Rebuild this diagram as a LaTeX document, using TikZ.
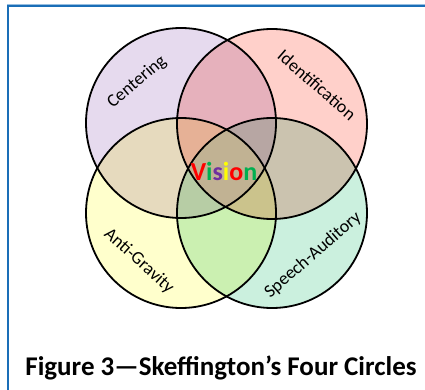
\documentclass[tikz,border=0pt]{standalone}
\usepackage{fontspec}
\setmainfont{Carlito}
\begin{document}
\begin{tikzpicture}[x=1pt,y=-1pt,
  lbl/.style={font=\fontsize{18}{20}\selectfont, inner sep=0pt},
  ring/.style={draw=black, line width=1.8pt}]
\definecolor{cTL}{RGB}{230,218,238}
\definecolor{cTR}{RGB}{255,208,202}
\definecolor{cBL}{RGB}{255,255,204}
\definecolor{cBR}{RGB}{203,240,222}
\definecolor{frameblue}{RGB}{26,110,183}
\definecolor{framelight}{RGB}{150,190,225}
\definecolor{vred}{RGB}{255,0,0}
\definecolor{vgreen}{RGB}{0,176,80}
\definecolor{vpurple}{RGB}{112,48,160}
\definecolor{vyellow}{RGB}{255,255,0}
\useasboundingbox (0,0) rectangle (425,390);
\fill[white] (0,0) rectangle (425,390);
% frame
\draw[framelight, line width=1pt] (7,4.5) -- (425,4.5);
\draw[frameblue, line width=2.2pt] (7,6.3) -- (425,6.3);
\draw[frameblue, line width=2.2pt] (8,5.2) -- (8,390);
% circle centres
\coordinate (tl) at (181,123);
\coordinate (tr) at (272,124);
\coordinate (bl) at (181,213);
\coordinate (br) at (272,213);
\begin{scope}[blend group=multiply]
  \fill[cTL] (tl) circle (95);
  \fill[cTR] (tr) circle (95);
  \fill[cBL] (bl) circle (95);
  \fill[cBR] (br) circle (95);
\end{scope}
% lighten the four-way overlap slightly
\begin{scope}
  \clip (tl) circle (95);
  \clip (tr) circle (95);
  \clip (bl) circle (95);
  \clip (br) circle (95);
  \fill[white, opacity=0.14] (0,0) rectangle (425,390);
\end{scope}
\draw[ring] (tl) circle (95);
\draw[ring] (tr) circle (95);
\draw[ring] (bl) circle (95);
\draw[ring] (br) circle (95);
% labels
\node[lbl, rotate=40] (centering) at (137,82) {Centering};
\node[lbl, rotate=-41] (ident) at (317,85) {Identification};
\node[lbl, rotate=-42] (anti) at (139,261) {Anti-Gravity};
\node[lbl, rotate=41] (speech) at (313,255) {Speech-Auditory};
\node[font=\bfseries\fontsize{26}{30}\selectfont, inner sep=0pt] (vision) at (224,171)
  {\textcolor{vred}{V}\textcolor{vgreen}{i}\textcolor{vpurple}{s}\textcolor{vyellow}{i}\textcolor{vred}{o}\textcolor{vgreen}{n}};
\node[font=\bfseries\fontsize{27}{30}\selectfont, inner sep=0pt, anchor=base] (caption) at (221,375)
  {Figure 3—Skeffington’s Four Circles};
\end{tikzpicture}
\end{document}
